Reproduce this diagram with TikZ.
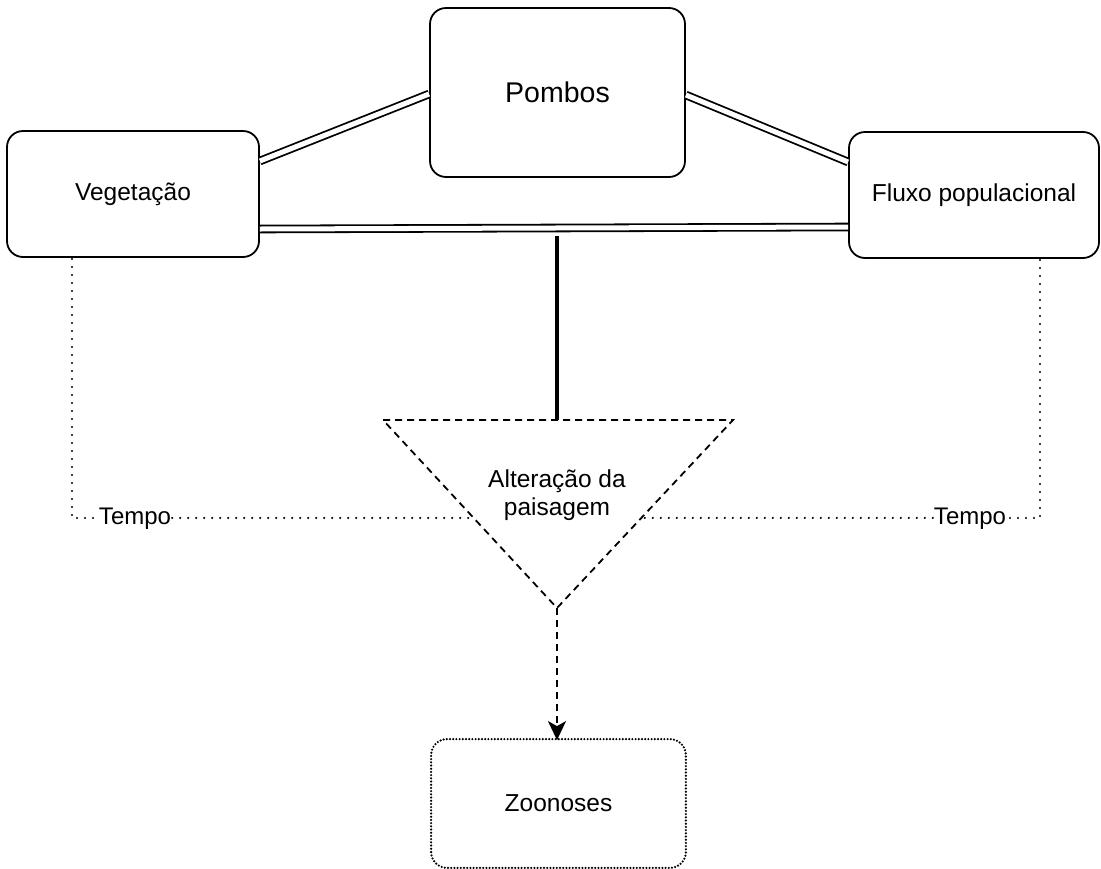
\documentclass[tikz,border=0pt]{standalone}
\usepackage{fontspec}
\setmainfont{Liberation Sans}
\usetikzlibrary{arrows.meta,calc}
\begin{document}
\begin{tikzpicture}[x=1pt,y=-1pt,
  box/.style={draw,line width=1.8pt,rounded corners=16pt,inner sep=0pt,
    font=\fontsize{24.5}{28}\selectfont,align=center},
  dbl/.style={draw,double,double distance=5pt,line width=1.8pt},
  dotline/.style={line width=2.4pt,line cap=round,dash pattern=on 0pt off 8pt},
  dashline/.style={line width=1.8pt,dash pattern=on 7pt off 5pt},
  lbl/.style={font=\fontsize{24}{28}\selectfont,inner sep=1pt,fill=white}
]
\useasboundingbox (0,0) rectangle (1101,868);

\node[box,minimum width=255pt,minimum height=169pt,font=\fontsize{28.5}{32}\selectfont] (pom) at (557.5,92.5) {Pombos};
\node[box,minimum width=252pt,minimum height=126pt] (veg) at (133,194) {Vegetação};
\node[box,minimum width=250pt,minimum height=126pt] (flu) at (974,195) {Fluxo populacional};
\node[box,draw=none,minimum width=253pt,minimum height=127pt] (zoo) at (558.5,803.5) {Zoonoses};
\draw[line width=2.4pt,rounded corners=16pt,line cap=round,dash pattern=on 0pt off 3.2pt]
  (zoo.south west) rectangle (zoo.north east);

% double connectors
\draw[dbl] ([yshift=33pt]veg.east) -- ([yshift=-1.5pt]pom.west);
\draw[dbl] ([yshift=-2.5pt]pom.east) -- ([yshift=33pt]flu.west);
\draw[dbl] ([yshift=-35pt]veg.east) -- ([yshift=-32pt]flu.west);

% triangle
\coordinate (tl) at (383,420);
\coordinate (tr) at (733,420);
\coordinate (tb) at (557,608);
\coordinate (tt) at (557,420);
\coordinate (jn) at (557,236);
\draw[dashline] (tl) -- (tr) -- (tb) -- cycle;
\node[font=\fontsize{24.5}{28}\selectfont,align=center] (alt) at (557,495) {Alteração da\\paisagem};

\draw[line width=4pt] (jn) -- (tt);

% Tempo
\node[lbl] (tL) at (135,519) {Tempo};
\node[lbl] (tR) at (970,519) {Tempo};
\coordinate (vb) at (72,259);
\coordinate (vc) at (72,518);
\coordinate (fb) at (1040,260);
\coordinate (fc) at (1040,518);
\coordinate (iL) at ($(tl)!0.521!(tb)$);
\coordinate (iR) at ($(tr)!0.521!(tb)$);
\draw[dotline] (vb) -- (vc) -- (vc -| tL.west);
\draw[dotline] (iL -| tL.east) -- (iL);
\draw[dotline] (fb) -- (fc) -- (fc -| tR.east);
\draw[dotline] (iR -| tR.west) -- (iR);

% arrow
\draw[dashline,-{Stealth[length=19pt,width=18pt,inset=5pt]},shorten >=-1pt] (tb) -- (tb |- zoo.north);
\end{tikzpicture}
\end{document}
